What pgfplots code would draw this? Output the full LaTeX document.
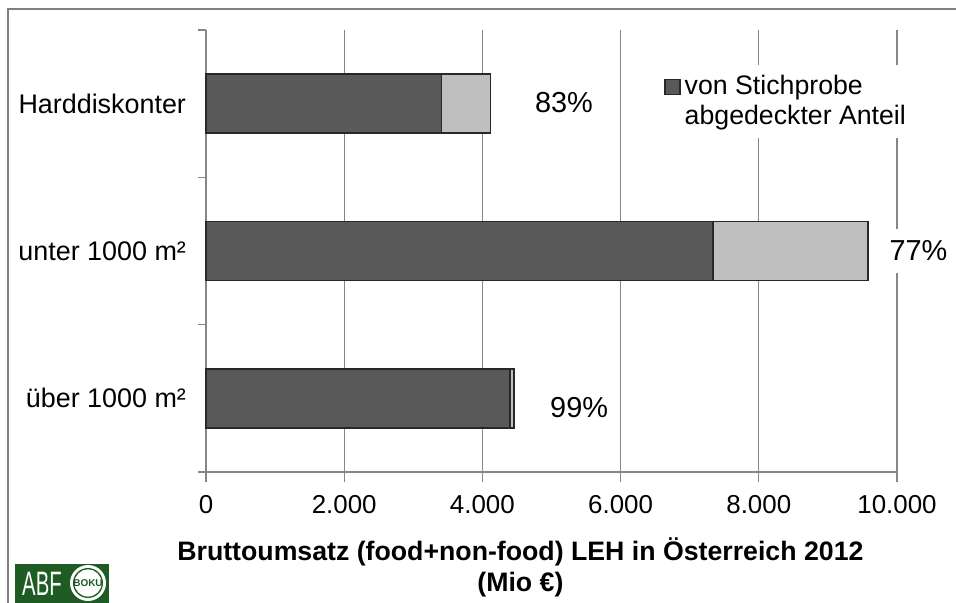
\documentclass[border=0pt]{standalone}
\usepackage{pgfplots}
\pgfplotsset{compat=1.18}
\usepackage{fontspec}
\setmainfont{Liberation Sans}
\definecolor{darkbar}{RGB}{89,89,89}
\definecolor{lightbar}{RGB}{191,191,191}
\definecolor{barline}{RGB}{40,40,40}
\definecolor{gridc}{RGB}{134,134,134}
\definecolor{logogreen}{RGB}{30,92,36}
\pgfplotsset{squarelegend/.style={legend image code/.code={\draw[##1] (0bp,3.6bp) rectangle (7.5bp,11.1bp);}}}
\begin{document}
\begin{tikzpicture}
\path[use as bounding box] (-103bp,-65.5bp) rectangle (375bp,236bp);
\draw[line width=1.2bp, black!50] (-99bp,-70bp) -- (-99bp,231.5bp) -- (380bp,231.5bp);
\begin{axis}[
  at={(0,0)}, anchor=south west,
  scale only axis, width=345.5bp, height=221bp,
  xbar stacked, bar width=29.5bp,
  xmin=0, xmax=10000, ymin=-0.5, ymax=2.5,
  xtick={0,2000,4000,6000,8000,10000},
  scaled x ticks=false,
  /pgf/number format/1000 sep={.},
  /pgf/number format/assume math mode=true,
  ytick={0,1,2},
  yticklabels={über 1000 m²,unter 1000 m²,Harddiskonter},
  minor ytick={-0.5,0.5,1.5,2.5},
  axis x line*=bottom, axis y line*=left,
  axis line style={gridc, line width=0.6bp},
  tick align=outside,
  major tick length=5bp, minor tick length=4bp,
  tick style={gridc, line width=0.6bp},
  every major y tick/.append style={draw=none},
  xmajorgrids, grid style={gridc, line width=0.6bp},
  ticklabel style={text=black},
  xticklabel style={font=\fontsize{13}{15}\selectfont, yshift=-3bp},
  yticklabel style={font=\fontsize{13.5}{15}\selectfont, xshift=-1.5bp},
  xlabel={Bruttoumsatz (food+non-food) LEH in Österreich 2012\\(Mio €)},
  xlabel style={font=\bfseries\fontsize{13.4}{15.5}\selectfont, align=center,
    at={(axis description cs:0.455,0)}, anchor=center, yshift=-47.5bp},
  legend style={at={(0.6555,0.921)}, anchor=north west, draw=none, fill=white,
    font=\fontsize{13.4}{15}\selectfont, cells={align=left, anchor=west},
    inner xsep=2.5bp, inner ysep=3bp},
  clip=false,
]
\addplot[fill=darkbar, draw=barline, line width=0.7bp, squarelegend]
  coordinates {(4400,0) (7340,1) (3410,2)};
\addlegendentry{von Stichprobe\\abgedeckter Anteil}
\addplot[fill=lightbar, draw=barline, line width=0.7bp, forget plot]
  coordinates {(55,0) (2240,1) (710,2)};
\node[fill=white, inner xsep=5bp, inner ysep=6bp, font=\fontsize{14.5}{17}\selectfont] at (axis cs:5180,2.01) {83\%};
\node[fill=white, inner xsep=5bp, inner ysep=6bp, font=\fontsize{14.5}{17}\selectfont] at (axis cs:10310,1) {77\%};
\node[fill=white, inner xsep=5bp, inner ysep=6bp, font=\fontsize{14.5}{17}\selectfont] at (axis cs:5400,-0.06) {99\%};
\end{axis}
\fill[logogreen] (-95.5bp,-46bp) rectangle (-48.5bp,-70bp);
\node[white, font=\fontsize{17}{17}\selectfont, xscale=0.6, anchor=west, inner sep=0pt] at (-92bp,-56bp) {ABF};
\fill[white] (-59bp,-55.5bp) circle (9bp);
\fill[logogreen] (-59bp,-55.5bp) circle (7.5bp);
\fill[white] (-59bp,-55.5bp) circle (6.8bp);
\node[logogreen, font=\bfseries\fontsize{5}{5}\selectfont, inner sep=0pt] at (-59bp,-55.5bp) {BOKU};
\end{tikzpicture}
\end{document}
